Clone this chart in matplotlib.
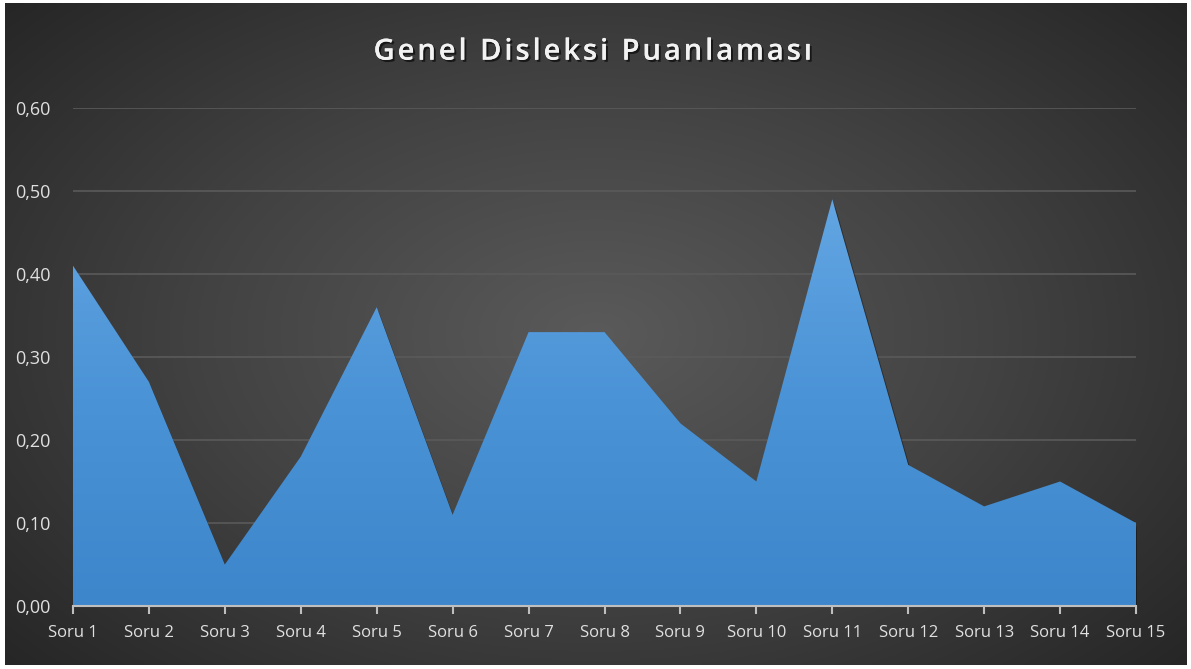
import matplotlib.pyplot as plt
import matplotlib.patheffects as pe
from matplotlib.path import Path
from matplotlib.patches import PathPatch
import numpy as np

labels = ['Soru %d' % i for i in range(1, 16)]
values = [0.41, 0.27, 0.05, 0.18, 0.36, 0.11, 0.33, 0.33, 0.22, 0.15, 0.49, 0.17, 0.12, 0.15, 0.10]
yticks = [0.0, 0.1, 0.2, 0.3, 0.4, 0.5, 0.6]
title = 'Genel Disleksi Puanlaması'

W, H = 1191, 669
fig = plt.figure(figsize=(W / 100, H / 100), dpi=100)
fig.patch.set_facecolor('white')

# dark radial background
bg = fig.add_axes([5 / W, 4 / H, 1182 / W, 662 / H])
yy, xx = np.mgrid[-1:1:300j, -1:1:500j]
r = np.sqrt(xx ** 2 + (yy * 0.9) ** 2)
bg.imshow(r, cmap=plt.matplotlib.colors.LinearSegmentedColormap.from_list(
    'bg', ['#5a5a5a', '#424242', '#262626']), vmin=0, vmax=1.35,
    aspect='auto', extent=[0, 1, 0, 1], interpolation='bicubic')
bg.set_axis_off()

ax = fig.add_axes([73 / W, 63 / H, 1063 / W, 498 / H])
ax.patch.set_alpha(0)
x = np.arange(len(values))
ax.set_xlim(0, len(values) - 1)
ax.set_ylim(0, 0.6)

for t in yticks[1:]:
    ax.axhline(t, color='#5a5a5a', lw=1.2, zorder=1)

# soft shadow
for k, a in [(0.012, 0.15), (0.008, 0.25), (0.004, 0.35)]:
    ax.fill_between(x + k * 4, np.array(values) - k, 0, color='#151515', alpha=a, zorder=2, lw=0)

# gradient area
verts = [(0, 0)] + list(zip(x, values)) + [(x[-1], 0), (0, 0)]
clip = PathPatch(Path(verts), facecolor='none', edgecolor='none', transform=ax.transData)
ax.add_patch(clip)
grad = np.linspace(0, 1, 256).reshape(-1, 1)
cm = plt.matplotlib.colors.LinearSegmentedColormap.from_list('ar', ['#3d86cb', '#4a93d6', '#64a6e3'])
im = ax.imshow(grad, cmap=cm, origin='lower', aspect='auto', extent=[0, x[-1], 0, 0.5], zorder=3)
im.set_clip_path(clip)

ax.set_xticks(x)
ax.set_xticklabels(labels)
ax.set_yticks(yticks)
ax.set_yticklabels([('%.2f' % v).replace('.', ',') for v in yticks])
for s in ['top', 'right', 'left']:
    ax.spines[s].set_visible(False)
ax.spines['bottom'].set_color('#bfbfbf')
ax.spines['bottom'].set_linewidth(1.5)
ax.spines['bottom'].set_zorder(5)
ax.tick_params(axis='x', colors='#bfbfbf', length=6, width=1.5, direction='out', pad=8)
ax.tick_params(axis='y', length=0, pad=16)
for lab in ax.get_xticklabels() + ax.get_yticklabels():
    lab.set_color('#e0e0e0')
    lab.set_fontsize(12)
    lab.set_family(['Liberation Sans Narrow', 'Open Sans', 'DejaVu Sans'])
for lab in ax.get_yticklabels():
    lab.set_fontsize(13)

spaced = '\u200a'.join(title)
fig.text(0.497, 0.922, spaced, ha='center', va='center', color='#f2f2f2', fontsize=21,
         fontweight='semibold', family=['Open Sans', 'DejaVu Sans'],
         path_effects=[pe.withSimplePatchShadow(offset=(1.5, -1.5), shadow_rgbFace='black', alpha=0.6), pe.Normal()])

fig.savefig('out.png', dpi=100, facecolor=fig.get_facecolor())
